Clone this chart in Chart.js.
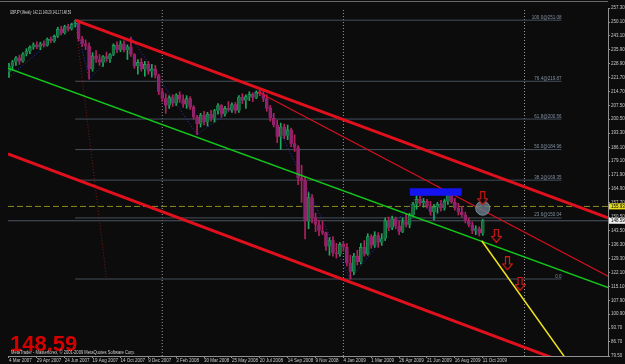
<!DOCTYPE html>
<html>
<head>
<meta charset="utf-8">
<title>GBPJPY Weekly</title>
<script src="https://cdn.jsdelivr.net/npm/chart.js@4.4.1/dist/chart.umd.min.js"></script>
<style>
    html, body { margin: 0; padding: 0; background: #0c0c0c; }
    #chart { display: block; }
</style>
</head>
<body>
<canvas id="chart" width="625" height="364"></canvas>
<script>
// Weekly GBPJPY candles, one per week starting 4 Mar 2007 (index 0)
const opens = [
    224.5, 227.5, 229.8, 231.8, 230.0, 233.8, 235.2, 237.3, 238.5, 237.2,
    239.0, 238.2, 241.3, 240.5, 242.8, 246.5, 244.5, 247.8, 246.5, 248.8,
    249.5, 241.5, 239.0, 237.8, 226.0, 232.8, 231.0, 229.5, 232.5, 231.2,
    233.5, 238.2, 236.0, 239.0, 235.8, 237.5, 233.5, 227.5, 229.5, 226.0,
    228.5, 224.8, 226.2, 222.8, 214.5, 211.0, 207.5, 211.5, 208.5, 212.8,
    210.5, 208.0, 211.0, 206.5, 201.5, 198.0, 202.5, 199.0, 203.0, 200.8,
    204.8, 207.5, 203.0, 206.0, 205.2, 208.0, 204.8, 211.8, 210.0, 212.0,
    213.2, 211.5, 214.2, 213.5, 211.0, 206.0, 201.0, 197.5, 191.5, 196.5,
    192.0, 195.0, 188.0, 186.0, 170.5, 169.0, 148.5, 160.5, 150.0, 146.5,
    143.5, 142.5, 135.5, 138.5, 132.0, 131.5, 136.5, 135.0, 127.0, 122.5,
    130.5, 127.5, 135.0, 131.5, 140.5, 136.0, 141.0, 137.5, 139.5, 148.5,
    145.0, 149.5, 146.0, 143.0, 148.0, 146.5, 151.5, 157.0, 159.5, 157.5,
    158.5, 156.2, 153.0, 155.5, 157.0, 155.0, 158.5, 161.8, 158.0, 155.0,
    153.0, 151.5, 148.5, 146.5, 143.5, 144.5, 142.21
];
const highs = [
    229.0, 230.5, 232.5, 233.2, 234.5, 236.5, 238.0, 239.5, 240.0, 239.8,
    240.5, 242.0, 242.5, 243.5, 247.5, 248.0, 248.5, 249.0, 249.5, 251.08,
    250.0, 242.8, 241.0, 239.5, 234.5, 235.5, 233.5, 233.0, 234.8, 234.0,
    239.0, 240.0, 240.5, 240.5, 238.5, 242.5, 234.0, 231.0, 231.5, 230.0,
    230.0, 228.5, 228.0, 223.5, 216.0, 213.5, 212.5, 213.0, 213.5, 214.5,
    213.0, 212.5, 212.0, 207.5, 202.5, 203.5, 204.5, 204.0, 205.0, 205.5,
    208.5, 208.0, 207.0, 209.5, 208.8, 209.0, 212.5, 213.5, 213.0, 214.5,
    214.0, 215.0, 215.9, 214.5, 213.0, 207.5, 203.5, 200.0, 198.5, 198.0,
    197.5, 196.0, 192.5, 187.0, 177.0, 171.0, 163.0, 162.0, 152.5, 149.0,
    148.5, 142.8, 140.0, 140.5, 137.0, 137.5, 138.0, 137.0, 131.0, 132.0,
    133.5, 137.0, 138.5, 142.0, 141.5, 143.0, 142.5, 142.0, 150.0, 150.5,
    151.0, 150.5, 148.5, 150.0, 152.0, 152.5, 158.0, 161.5, 163.3, 160.0,
    159.5, 158.5, 157.0, 158.0, 159.0, 159.5, 163.1, 162.5, 160.0, 157.5,
    156.0, 153.0, 150.0, 148.0, 146.0, 145.5, 149.29
];
const lows = [
    221.8, 225.5, 228.0, 228.5, 229.5, 232.8, 234.0, 236.2, 236.5, 236.0,
    237.5, 237.8, 239.5, 239.8, 242.2, 243.5, 244.0, 245.5, 246.0, 247.5,
    240.5, 237.5, 236.0, 221.0, 225.0, 229.5, 228.0, 227.5, 230.0, 229.5,
    233.0, 234.5, 235.0, 234.8, 231.0, 232.5, 226.5, 223.5, 225.0, 222.5,
    223.5, 222.0, 221.5, 213.0, 209.5, 203.5, 206.0, 207.0, 207.5, 209.0,
    206.5, 206.0, 205.5, 200.5, 192.6, 196.5, 197.5, 197.0, 199.5, 199.0,
    203.0, 201.5, 202.0, 204.5, 204.0, 203.5, 204.0, 208.5, 206.0, 210.0,
    209.5, 211.0, 212.5, 209.5, 204.5, 199.5, 196.5, 188.5, 185.0, 190.5,
    190.0, 186.5, 184.0, 167.0, 158.0, 139.3, 144.5, 147.5, 143.0, 141.0,
    141.5, 133.5, 131.0, 130.5, 129.5, 130.5, 133.0, 125.5, 118.83, 121.0,
    126.0, 126.5, 130.5, 131.0, 134.5, 135.0, 135.0, 136.0, 138.5, 143.5,
    144.0, 144.5, 141.5, 142.5, 145.5, 145.0, 150.5, 154.5, 156.0, 155.5,
    155.0, 151.5, 149.0, 152.5, 153.5, 154.0, 157.0, 157.5, 154.0, 151.5,
    150.5, 147.5, 145.5, 142.0, 141.5, 140.8, 141.17
];
const closes = [
    227.5, 229.8, 231.8, 230.0, 233.8, 235.2, 237.3, 238.5, 237.2, 239.0,
    238.2, 241.3, 240.5, 242.8, 246.5, 244.5, 247.8, 246.5, 248.8, 249.5,
    241.5, 239.0, 237.8, 226.0, 232.8, 231.0, 229.5, 232.5, 231.2, 233.5,
    238.2, 236.0, 239.0, 235.8, 237.5, 233.5, 227.5, 229.5, 226.0, 228.5,
    224.8, 226.2, 222.8, 214.5, 211.0, 207.5, 211.5, 208.5, 212.8, 210.5,
    208.0, 211.0, 206.5, 201.5, 198.0, 202.5, 199.0, 203.0, 200.8, 204.8,
    207.5, 203.0, 206.0, 205.2, 208.0, 204.8, 211.8, 210.0, 212.0, 213.2,
    211.5, 214.2, 213.5, 211.0, 206.0, 201.0, 197.5, 191.5, 196.5, 192.0,
    195.0, 188.0, 186.0, 170.5, 169.0, 148.5, 160.5, 150.0, 146.5, 143.5,
    142.5, 135.5, 138.5, 132.0, 131.5, 136.5, 135.0, 127.0, 122.5, 130.5,
    127.5, 135.0, 131.5, 140.5, 136.0, 141.0, 137.5, 139.5, 148.5, 145.0,
    149.5, 146.0, 143.0, 148.0, 146.5, 151.5, 157.0, 159.5, 157.5, 158.5,
    156.2, 153.0, 155.5, 157.0, 155.0, 158.5, 161.8, 158.0, 155.0, 153.0,
    151.5, 148.5, 146.5, 143.5, 144.5, 142.2, 148.59
];

// Axis labels
const xTickWeeks = [0, 8, 16, 24, 32, 40, 48, 56, 64, 72, 80, 88, 96, 104, 112, 120, 128, 136];
const xTickLabels = [
    '4 Mar 2007', '29 Apr 2007', '24 Jun 2007', '19 Aug 2007', '14 Oct 2007', '9 Dec 2007',
    '3 Feb 2008', '30 Mar 2008', '25 May 2008', '20 Jul 2008', '14 Sep 2008', '9 Nov 2008',
    '4 Jan 2009', '1 Mar 2009', '26 Apr 2009', '21 Jun 2009', '16 Aug 2009', '11 Oct 2009'
];
const yTickValues = [
    257.30, 250.10, 243.10, 235.90, 228.90, 221.70, 214.70, 207.50, 200.50, 193.30,
    186.10, 179.10, 171.90, 164.90, 157.70, 150.50, 143.50, 136.30, 129.30, 122.10,
    115.10, 107.90, 100.90, 93.70, 86.70, 79.50
];

// Fibonacci retracement (Jul 2007 high -> Jan 2009 low)
const fibRatios = ['100.0', '76.4', '61.8', '50.0', '38.2', '23.6', '0.0'];
const fibPrices = [251.08, 219.87, 200.56, 184.96, 169.35, 150.04, 118.83];
const fibWeeks = [19, 158.6];
const fibAnchorWeeks = [19, 28];
const fibAnchorPrices = [251.08, 118.83];

// ZigZag pivots
const zigWeeks = [0, 19, 23, 35, 54, 72, 98, 118, 122, 126, 135];
const zigPrices = [221.8, 251.08, 221.0, 242.5, 192.6, 215.9, 118.83, 163.3, 149.0, 163.1, 140.8];

// Trend lines (week, price pairs)
const upperRedWeeks = [19, 172];
const upperRedPrices = [251.08, 150.1];
const lowerRedWeeks = [-0.28, 172];
const lowerRedPrices = [182.75, 67.9];
const thinRedWeeks = [71.4, 172];
const thinRedPrices = [214.5, 120.3];
const greenWeeks = [-0.28, 172];
const greenPrices = [226.6, 114.5];
const yellowWeeks = [135.7, 159.5];
const yellowPrices = [138.4, 79.0];

// Other objects
const separatorWeeks = [44, 96, 148];
const resistanceLevel = 155.93;
const bidPrice = 148.59;
const boxWeeks = [115, 130];
const boxPrices = [161.4, 164.9];
const circleWeek = 136;
const circlePrice = 155.0;
const arrowWeeks = [136, 139.9, 143.1, 146.7];
const arrowPrices = [160.1, 140.9, 126.8, 116.3];

const PRICE_MIN = 79.5;
const PRICE_MAX = 257.3;
const WEEK_MIN = -0.28;
const WEEK_MAX = 171.96;

const BULL = '#22a85e';
const BEAR = '#8a2274';
const BEAR_WICK = '#b0225e';
const FONT = '"Liberation Sans", Arial, sans-serif';

function isBull(i) {
    return closes[i] >= opens[i];
}

// Build a simple line dataset from week / price arrays
function lineSet(weeks, prices, color, width, dash, order) {
    return {
        type: 'line',
        data: weeks.map((w, i) => ({ x: w, y: prices[i] })),
        borderColor: color,
        borderWidth: width,
        borderDash: dash || [],
        pointRadius: 0,
        tension: 0,
        fill: false,
        order: order
    };
}

// Red outlined "down" arrow used as a point style
function makeArrow() {
    const c = document.createElement('canvas');
    c.width = 11;
    c.height = 14;
    const g = c.getContext('2d');
    g.beginPath();
    g.moveTo(3.5, 0.5);
    g.lineTo(7.5, 0.5);
    g.lineTo(7.5, 7.5);
    g.lineTo(10.5, 7.5);
    g.lineTo(5.5, 13.5);
    g.lineTo(0.5, 7.5);
    g.lineTo(3.5, 7.5);
    g.closePath();
    g.fillStyle = '#0c0c0c';
    g.fill();
    g.strokeStyle = '#d01818';
    g.lineWidth = 1.2;
    g.stroke();
    return c;
}

const datasets = [];

// Fibonacci levels
fibPrices.forEach(p => {
    datasets.push(lineSet(fibWeeks, [p, p], '#46505e', 1, null, 20));
});

// Period separators
separatorWeeks.forEach(w => {
    datasets.push(lineSet([w, w], [PRICE_MIN, PRICE_MAX], '#9a9a9a', 1, [1, 2], 20));
});

// Horizontal levels
datasets.push(lineSet([WEEK_MIN, WEEK_MAX], [resistanceLevel, resistanceLevel], '#8c8c1e', 1, [6, 3], 19));
datasets.push(lineSet([WEEK_MIN, WEEK_MAX], [bidPrice, bidPrice], '#4c5662', 1, null, 19));

// ZigZag and fib anchor line
datasets.push(lineSet(zigWeeks, zigPrices, '#3030d0', 1, [1, 2], 18));
datasets.push(lineSet(fibAnchorWeeks, fibAnchorPrices, '#7a1818', 1, [1, 2], 18));

// Candles: wicks and bodies as floating bars
datasets.push({
    type: 'bar',
    data: opens.map((_, i) => ({ x: i, y: [lows[i], highs[i]] })),
    backgroundColor: ctx => isBull(ctx.dataIndex) ? BULL : BEAR_WICK,
    barThickness: 1,
    grouped: false,
    order: 11
});
datasets.push({
    type: 'bar',
    data: opens.map((_, i) => ({ x: i, y: [opens[i], closes[i]] })),
    backgroundColor: ctx => isBull(ctx.dataIndex) ? '#156a3e' : BEAR,
    borderColor: ctx => isBull(ctx.dataIndex) ? BULL : BEAR_WICK,
    borderWidth: 0.6,
    barThickness: 3,
    minBarLength: 1,
    grouped: false,
    order: 10
});

// Channel and trend lines
datasets.push(lineSet(greenWeeks, greenPrices, '#12c81a', 1.5, null, 6));
datasets.push(lineSet(thinRedWeeks, thinRedPrices, '#d8101e', 1.2, null, 6));
datasets.push(lineSet(upperRedWeeks, upperRedPrices, '#e0101c', 3, null, 5));
datasets.push(lineSet(lowerRedWeeks, lowerRedPrices, '#e0101c', 3, null, 5));
datasets.push(lineSet(yellowWeeks, yellowPrices, '#f0e21c', 1.5, null, 5));

// Blue resistance box
datasets.push({
    type: 'line',
    data: boxWeeks.map(w => ({ x: w, y: boxPrices[1] })),
    borderColor: '#1414f0',
    backgroundColor: '#1414f0',
    borderWidth: 1,
    pointRadius: 0,
    fill: { value: boxPrices[0] },
    order: 4
});

// Grey circle marker
datasets.push({
    type: 'line',
    data: [{ x: circleWeek, y: circlePrice }],
    showLine: false,
    pointStyle: 'circle',
    pointRadius: 7,
    backgroundColor: 'rgba(104, 124, 138, 0.8)',
    borderColor: '#7a8c98',
    borderWidth: 1,
    order: 3
});

// Down arrows
const arrowImg = makeArrow();
datasets.push({
    type: 'line',
    data: arrowWeeks.map((w, i) => ({ x: w, y: arrowPrices[i] })),
    showLine: false,
    pointStyle: arrowImg,
    pointRadius: 7,
    order: 2
});

// Background fill
const backgroundPlugin = {
    id: 'background',
    beforeDraw(chart) {
        const ctx = chart.ctx;
        ctx.save();
        ctx.fillStyle = '#0c0c0c';
        ctx.fillRect(0, 0, chart.width, chart.height);
        ctx.strokeStyle = '#6a6a6a';
        ctx.lineWidth = 1;
        ctx.beginPath();
        ctx.moveTo(0, 1.5);
        ctx.lineTo(chart.chartArea.right, 1.5);
        ctx.stroke();
        ctx.restore();
    }
};

// Texts: title, fib labels, price tags, big price, copyright
const textPlugin = {
    id: 'texts',
    afterDraw(chart) {
        const ctx = chart.ctx;
        const area = chart.chartArea;
        const xs = chart.scales.x;
        const ys = chart.scales.y;
        ctx.save();

        // Fib labels
        ctx.font = '4.5px ' + FONT;
        ctx.fillStyle = '#8290a0';
        ctx.textAlign = 'right';
        ctx.textBaseline = 'bottom';
        const fx = xs.getPixelForValue(fibWeeks[1]);
        fibPrices.forEach((p, i) => {
            const label = i === fibPrices.length - 1 ? fibRatios[i] : fibRatios[i] + '@' + p.toFixed(2);
            ctx.fillText(label, fx, ys.getPixelForValue(p) - 0.5);
        });

        // Title
        ctx.textAlign = 'left';
        ctx.textBaseline = 'alphabetic';
        ctx.font = '6px ' + FONT;
        ctx.fillStyle = '#d8d8d8';
        ctx.fillText('GBPJPY,Weekly  142.21 149.29 141.17 148.59', area.left + 2, area.top + 6, 61);

        // Big price
        ctx.font = 'bold 22px ' + FONT;
        ctx.fillStyle = '#d40000';
        ctx.fillText(bidPrice.toFixed(2), area.left + 2, area.bottom - 5);

        // Copyright
        ctx.font = '6px ' + FONT;
        ctx.fillStyle = '#cfcfcf';
        ctx.fillText('MetaTrader - Masterforex, \u00a9 2001-2009 MetaQuotes Software Corp.', area.left + 3, area.bottom - 2, 124);

        // Price tags on the axis
        const tags = [
            { price: resistanceLevel, bg: '#e6dc1e' },
            { price: bidPrice, bg: '#f0f0f0' }
        ];
        ctx.font = '4.5px ' + FONT;
        ctx.textBaseline = 'middle';
        tags.forEach(t => {
            const y = ys.getPixelForValue(t.price);
            ctx.fillStyle = t.bg;
            ctx.fillRect(area.right + 1, y - 3, chart.width - area.right - 1, 6);
            ctx.fillStyle = '#000000';
            ctx.fillText(t.price.toFixed(2), area.right + 3, y);
        });

        ctx.restore();
    }
};

function initializeChart() {
    const ctx = document.getElementById('chart').getContext('2d');

    new Chart(ctx, {
        type: 'bar',
        data: { datasets: datasets },
        plugins: [backgroundPlugin, textPlugin],
        options: {
            responsive: false,
            animation: false,
            devicePixelRatio: 1,
            events: [],
            layout: { padding: { top: 2, left: 0, right: 0, bottom: 0 } },
            plugins: {
                legend: { display: false },
                tooltip: { enabled: false }
            },
            scales: {
                x: {
                    type: 'linear',
                    min: WEEK_MIN,
                    max: WEEK_MAX,
                    offset: false,
                    afterFit: s => { s.height = 8; },
                    afterBuildTicks: s => { s.ticks = xTickWeeks.map(v => ({ value: v })); },
                    ticks: {
                        color: '#c8c8c8',
                        font: { size: 4.5, family: FONT },
                        align: 'start',
                        padding: 0,
                        maxRotation: 0,
                        autoSkip: false,
                        callback: (v, i) => xTickLabels[i]
                    },
                    grid: { drawOnChartArea: false, offset: false, color: '#909090', tickLength: 2 },
                    border: { color: '#909090' }
                },
                y: {
                    type: 'linear',
                    position: 'right',
                    min: PRICE_MIN,
                    max: PRICE_MAX,
                    afterFit: s => { s.width = 17; },
                    afterBuildTicks: s => { s.ticks = yTickValues.map(v => ({ value: v })); },
                    ticks: {
                        color: '#c8c8c8',
                        font: { size: 4.5, family: FONT },
                        padding: 1,
                        autoSkip: false,
                        callback: v => Number(v).toFixed(2)
                    },
                    grid: { drawOnChartArea: false, color: '#909090', tickLength: 2 },
                    border: { color: '#909090' }
                }
            }
        }
    });
}

initializeChart();
</script>
</body>
</html>
